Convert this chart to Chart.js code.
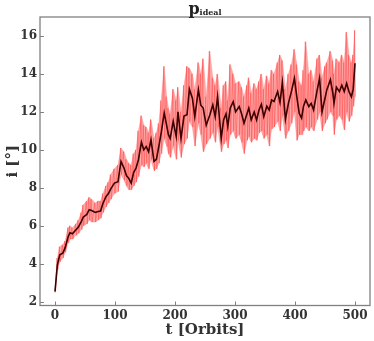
<!DOCTYPE html>
<html><head><meta charset="utf-8">
<script src="https://cdn.jsdelivr.net/npm/chart.js@4.4.1/dist/chart.umd.min.js"></script>
<style>
body{margin:0;background:#fff;}
#wrap{position:relative;width:374px;height:341px;}
#title{position:absolute;left:0;width:410px;top:1px;text-align:center;font-family:'DejaVu Serif';font-weight:bold;font-size:16px;color:#222;line-height:16px;}
#title sub{font-size:8px;vertical-align:-1px;}
</style></head><body>
<div id="wrap"><canvas id="c" width="374" height="341"></canvas><div id="title">p<sub>ideal</sub></div></div>
<script>
const xTicks=[0,100,200,300,400,500];
const yTicks=[2,4,6,8,10,12,14,16];
const tOrbits=[0,4,8,13,17,22,25,29,35,39,
44,47,53,57,61,67,72,76,80,85,
89,93,99,105,110,115,119,123,127,131,
135,139,144,148,152,156,160,165,169,173,
177,182,186,189,192,197,202,205,210,215,
220,224,229,233,239,243,247,252,258,263,
267,271,277,281,285,288,292,297,301,307,
311,315,320,323,327,332,336,340,344,348,
353,357,361,365,371,375,379,384,389,394,
399,403,407,411,414,418,423,427,431,437,
441,445,450,453,459,463,465,469,474,478,
482,486,490,494,497,500];
const incMean=[2.54,3.95,4.47,4.56,4.85,5.44,5.63,5.58,5.79,5.93,
6.23,6.45,6.6,6.85,6.8,6.7,6.75,6.78,7.19,7.54,
7.7,7.95,8.25,8.32,9.39,9.04,8.65,8.5,8.25,8.8,
9.04,9.47,10.4,10.0,10.17,9.9,10.53,9.39,9.5,10.17,
10.9,11.95,11.3,10.8,10.6,11.5,10.7,12.0,10.6,11.78,
11.85,13.2,12.72,11.75,13.16,12.35,12.2,11.3,11.84,12.37,
11.75,12.8,10.6,11.58,11.9,11.23,12.2,12.54,12.0,12.28,
11.9,11.4,11.9,12.2,11.58,12.0,11.58,12.1,12.4,11.75,
12.3,12.1,12.63,12.55,13.07,12.5,13.55,11.6,12.45,13.07,
13.77,12.8,11.93,11.67,12.28,12.63,12.28,12.45,12.1,13.16,
13.77,12.0,12.72,13.16,13.7,13.0,12.45,13.3,13.07,13.4,
13.07,13.5,13.07,12.8,13.2,14.56];
const incHigh=[2.6,4.3,4.9,5.0,5.2,5.9,6.0,5.9,6.1,6.3,
6.7,7.1,7.3,7.5,7.4,7.2,7.3,7.3,7.7,8.1,
8.3,8.7,9.0,9.2,10.1,9.9,9.5,9.3,9.2,9.8,
10.0,11.0,11.8,11.3,11.2,10.9,11.6,10.6,10.9,11.4,
12.6,14.4,12.8,12.2,11.9,13.2,12.6,13.3,12.0,13.4,
14.4,14.3,14.0,13.2,14.6,14.0,14.8,12.8,15.2,13.8,
13.4,14.0,12.2,13.4,13.6,12.6,14.5,14.0,13.5,13.6,
13.3,12.8,13.4,13.8,13.0,13.5,13.2,13.6,14.0,13.2,
13.9,13.5,14.2,14.0,14.6,15.0,14.7,13.2,14.0,14.5,
15.3,14.5,13.6,13.4,14.2,15.7,14.0,14.2,13.6,14.8,
15.0,13.8,14.4,14.6,15.2,14.7,14.0,14.8,14.6,15.0,
14.6,16.2,15.0,14.6,15.0,16.3];
const incLow=[2.5,3.7,4.1,4.3,4.6,5.1,5.3,5.3,5.5,5.6,
5.8,6.0,6.1,6.3,6.2,6.2,6.3,6.4,6.7,7.0,
7.2,7.4,7.7,7.8,8.7,8.4,8.1,7.9,7.9,8.1,
8.3,8.6,9.2,9.1,9.3,9.0,9.5,8.9,9.0,9.3,
9.8,10.6,10.2,9.8,9.6,10.2,9.5,10.5,9.6,10.3,
10.6,11.5,11.2,10.2,11.4,10.8,9.9,10.3,10.6,10.9,
10.4,11.2,9.9,10.3,10.5,10.1,10.8,11.0,10.6,10.8,
10.4,9.8,10.5,10.7,10.4,10.6,10.5,10.9,11.0,10.6,
10.8,10.2,11.1,11.2,11.5,11.0,11.8,10.6,11.0,11.4,
12.0,10.5,10.8,10.8,11.0,11.2,11.0,11.2,11.0,11.6,
12.0,11.0,11.4,11.6,12.0,11.8,10.8,11.6,11.8,11.6,
11.05,12.0,11.5,11.8,12.3,12.8];

const pts=(ys)=>tOrbits.map((t,i)=>({x:t,y:ys[i]}));
// streaks: each sample drawn as a stroke from its high to its low reading
const streaks=[];
tOrbits.forEach((t,i)=>{streaks.push({x:t-0.8,y:incHigh[i]});streaks.push({x:t+0.8,y:incLow[i]});});
const FONT='DejaVu Serif';
const TXT='#333';
const frame={
  id:'frame',
  afterDatasetsDraw(chart){
    const {ctx,chartArea:a,scales:{x,y}}=chart;
    ctx.save();
    ctx.strokeStyle='#808080';ctx.lineWidth=1.3;
    ctx.strokeRect(a.left,a.top,a.right-a.left,a.bottom-a.top);
    ctx.lineWidth=1;ctx.beginPath();
    xTicks.forEach(v=>{const p=Math.round(x.getPixelForValue(v))+0.5;ctx.moveTo(p,a.bottom);ctx.lineTo(p,a.bottom-4);});
    yTicks.forEach(v=>{const p=Math.round(y.getPixelForValue(v))+0.5;ctx.moveTo(a.left,p);ctx.lineTo(a.left+4,p);});
    ctx.stroke();ctx.restore();
  }
};
new Chart(document.getElementById('c'),{
  type:'line',
  data:{datasets:[
    {data:pts(incMean),borderColor:'#3d0000',borderWidth:1.6,fill:false,order:0},
    {data:streaks,borderColor:'rgba(255,70,70,0.5)',borderWidth:1,fill:false,order:1},
    {data:pts(incHigh),borderColor:'rgba(255,130,130,0.4)',borderWidth:1,fill:'+1',backgroundColor:'rgba(255,115,115,0.62)',order:2},
    {data:pts(incLow),borderColor:'rgba(255,130,130,0.4)',borderWidth:1,fill:false,order:3}
  ]},
  options:{
    responsive:false,animation:false,
    layout:{padding:{top:17,right:4,left:4,bottom:0}},
    elements:{point:{radius:0},line:{tension:0}},
    plugins:{legend:{display:false},tooltip:{enabled:false},title:{display:false}},
    scales:{
      x:{type:'linear',min:-25,max:525,
        afterBuildTicks:s=>{s.ticks=xTicks.map(v=>({value:v}));},
        afterFit:s=>{s.height=35.5;},
        grid:{display:false,drawTicks:false},border:{display:false},
        ticks:{color:TXT,padding:3,font:{family:FONT,weight:'bold',size:12}},
        title:{display:true,text:'t [Orbits]',color:TXT,font:{family:FONT,weight:'bold',size:15},padding:{top:0,bottom:2}}
      },
      y:{type:'linear',min:1.8,max:17,
        afterBuildTicks:s=>{s.ticks=yTicks.map(v=>({value:v}));},
        afterFit:s=>{s.width=36;},
        grid:{display:false,drawTicks:false},border:{display:false},
        ticks:{color:TXT,padding:3,font:{family:FONT,weight:'bold',size:12}},
        title:{display:true,text:'i [°]',color:TXT,font:{family:FONT,weight:'bold',size:15},padding:{top:0,bottom:0}}
      }
    }
  },
  plugins:[frame]
});
</script>
</body></html>
